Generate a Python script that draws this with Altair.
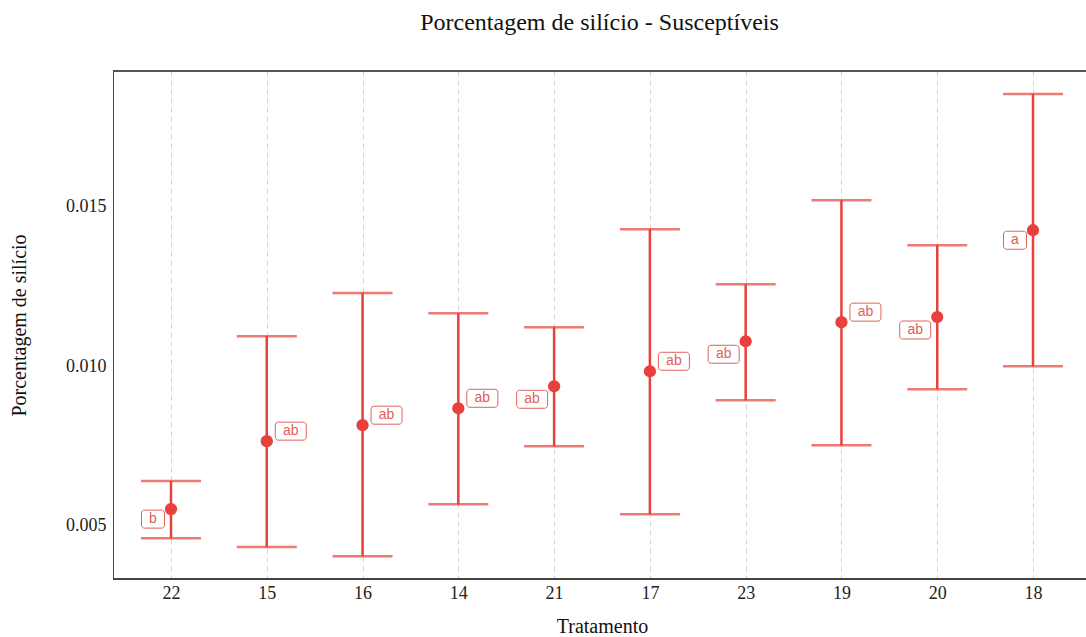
import altair as alt
import pandas as pd

tratamento = ["22", "15", "16", "14", "21", "17", "23", "19", "20", "18"]
media = [0.00552, 0.00765, 0.00815, 0.00868, 0.00937, 0.00984, 0.01078, 0.01138, 0.01154, 0.01426]
superior = [0.0064, 0.01094, 0.01229, 0.01166, 0.01122, 0.01429, 0.01257, 0.01520, 0.01379, 0.01853]
inferior = [0.00461, 0.00433, 0.00404, 0.00567, 0.00749, 0.00536, 0.00893, 0.00752, 0.00928, 0.01000]
letras = ["b", "ab", "ab", "ab", "ab", "ab", "ab", "ab", "ab", "a"]
lado = ["left", "right", "right", "right", "left", "right", "left", "right", "left", "left"]

df = pd.DataFrame({
    "Tratamento": tratamento, "media": media, "sup": superior, "inf": inferior,
    "letra": letras, "lado": lado,
})
df["grupo"] = df["lado"] + "_" + df["letra"].str.len().astype(str)

RED = "#E8403A"
LABEL = "#E0605A"
W, H = 973, 508

x = alt.X("Tratamento:N", sort=tratamento, title="Tratamento",
          scale=alt.Scale(type="point", padding=0, range=[58, 920]),
          axis=alt.Axis(labelAngle=0, ticks=False, grid=True, gridDash=[5, 4],
                        gridColor="#d4d4d4", gridWidth=1, domain=False,
                        labelPadding=5, titlePadding=14))
yscale = alt.Scale(domain=[0.00333, 0.01925], nice=False, zero=False)
y = alt.Y("media:Q", title="Porcentagem de silício", scale=yscale,
          axis=alt.Axis(values=[0.005, 0.010, 0.015], format=".3f", grid=False,
                        ticks=False, domainColor="#444", labelPadding=7, titlePadding=36))

base = alt.Chart(df)

rules = base.mark_rule(color=RED, strokeWidth=2.5).encode(
    x=x, y=alt.Y("inf:Q", scale=yscale), y2="sup:Q")
cap_up = base.mark_tick(color=RED, size=60, thickness=2.5).encode(
    x=x, y=alt.Y("sup:Q", scale=yscale))
cap_lo = base.mark_tick(color=RED, size=60, thickness=2.5).encode(
    x=x, y=alt.Y("inf:Q", scale=yscale))
pts = base.mark_circle(color=RED, size=150, opacity=1).encode(x=x, y=y)

layers = [rules, cap_up, cap_lo, pts]
cfg = {
    "right_2": (24, -10, 31),
    "left_2": (-22, 13, 31),
    "left_1": (-18, 10, 23),
}
for g, (dx, dy, bw) in cfg.items():
    sub = base.transform_filter(alt.datum.grupo == g)
    box = sub.mark_rect(width=bw, height=18, xOffset=dx, yOffset=dy, fill="white",
                        stroke=LABEL, strokeWidth=1, cornerRadius=3).encode(x=x, y=y)
    txt = sub.mark_text(dx=dx, dy=dy, color=LABEL, font="Liberation Sans",
                        fontSize=14, baseline="middle", align="center").encode(
        x=x, y=y, text="letra:N")
    layers += [box, txt]

top = alt.Chart(df).mark_rule(color="#555", strokeWidth=1).encode(
    x=alt.value(0), x2=alt.value(W), y=alt.value(0))
bottom = alt.Chart(df).mark_rule(color="#444", strokeWidth=1).encode(
    x=alt.value(0), x2=alt.value(W), y=alt.value(H))
layers += [top, bottom]

chart = alt.layer(*layers).properties(
    width=W, height=H,
    title=alt.TitleParams("Porcentagem de silício - Susceptíveis", font="Liberation Serif",
                          fontSize=24, fontWeight="normal", color="#111", offset=36,
                          anchor="middle"),
    autosize=alt.AutoSizeParams(type="none"),
    padding={"left": 113, "top": 71, "right": 0, "bottom": 58},
).configure_view(stroke=None).configure_axis(
    labelFont="Liberation Serif", titleFont="Liberation Serif", labelFontSize=18,
    titleFontSize=20, titleFontWeight="normal", labelColor="#222", titleColor="#111"
)

chart.save("out.html", embed_options={"renderer": "svg", "actions": False})
